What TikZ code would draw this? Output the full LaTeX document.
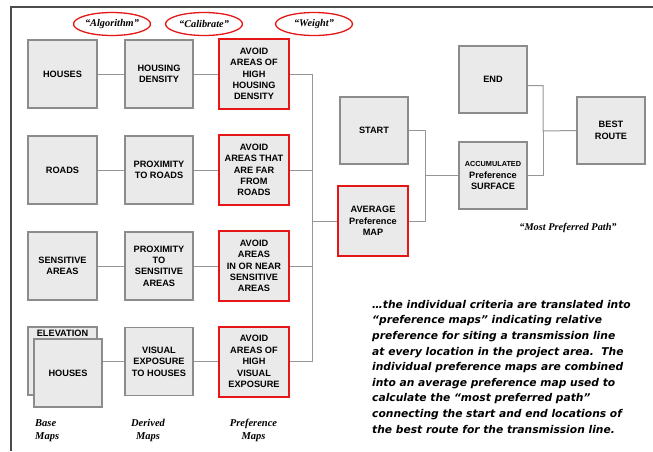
\documentclass[tikz,border=0pt]{standalone}
\usepackage{fontspec}
\setmainfont{Liberation Serif}
\setsansfont{Liberation Sans}
\newfontfamily\notefont{DejaVu Sans}
\usetikzlibrary{shapes.geometric}
\definecolor{boxfill}{RGB}{234,234,234}
\definecolor{boxline}{RGB}{140,140,140}
\definecolor{wirecol}{RGB}{150,150,150}
\definecolor{mred}{RGB}{228,22,22}
\tikzset{mapbox/.style = {draw=boxline, fill=boxfill, line width=1.2, align=center,
                          inner sep=1, minimum width=68, minimum height=68,
                          font=\sffamily\bfseries\fontsize{9.2}{11.4}\selectfont}}
\tikzset{prefbox/.style = {mapbox, draw=mred, line width=2, minimum width=70, minimum height=70}}
\tikzset{tag/.style = {draw=mred, line width=1.3, ellipse, minimum width=77, minimum height=23,
                       inner sep=0, font=\bfseries\itshape\fontsize{10.3}{12}\selectfont}}
\tikzset{wire/.style = {draw=wirecol, line width=1}}
\tikzset{caption/.style = {inner sep=0, align=center, font=\bfseries\itshape\fontsize{10.5}{13}\selectfont}}

\begin{document}
\begin{tikzpicture}[x=1pt, y=-1pt]
      \useasboundingbox (0,0) rectangle (653,451);
      \draw [line width=1.5, black!70] (11,451) -- (11,7) -- (653,7);

      % labels above the columns
      \node [tag] (algorithm) at (112,24) {``Algorithm''};
      \node [tag] (calibrate) at (204,24) {``Calibrate''};
      \node [tag] (weight) at (314,24) {``Weight''};

      % base, derived and preference maps
      \node [mapbox, minimum width=69] (houses) at (62.5,74) {HOUSES};
      \node [mapbox] (density) at (159,74) {HOUSING\\DENSITY};
      \node [prefbox] (avoidhousing) at (254,74) {AVOID\\AREAS OF\\HIGH\\HOUSING\\DENSITY};

      \node [mapbox, minimum width=69] (roads) at (62.5,170) {ROADS};
      \node [mapbox] (proxroads) at (159,170) {PROXIMITY\\TO ROADS};
      \node [prefbox] (avoidroads) at (254,170) {AVOID\\AREAS THAT\\ARE FAR\\FROM\\ROADS};

      \node [mapbox, minimum width=69] (sensitive) at (62.5,266) {SENSITIVE\\AREAS};
      \node [mapbox] (proxsensitive) at (159,266) {PROXIMITY\\TO\\SENSITIVE\\AREAS};
      \node [prefbox] (avoidsensitive) at (254,266) {AVOID\\AREAS\\IN OR NEAR\\SENSITIVE\\AREAS};

      \node [mapbox, minimum width=69] (elevation) at (62.5,361) {};
      \node [anchor=north, inner sep=0, font=\sffamily\bfseries\fontsize{9.2}{11}\selectfont]
            (elevtext) at ([yshift=-3]elevation.north) {ELEVATION};
      \node [mapbox] (housestwo) at (68,373) {HOUSES};
      \node [mapbox] (visual) at (159,361.5) {VISUAL\\EXPOSURE\\TO HOUSES};
      \node [prefbox] (avoidvisual) at (254,361.5) {AVOID\\AREAS OF\\HIGH\\VISUAL\\EXPOSURE};

      \draw [wire] (houses) -- (density);
      \draw [wire] (density) -- (avoidhousing);
      \draw [wire] (roads) -- (proxroads);
      \draw [wire] (proxroads) -- (avoidroads);
      \draw [wire] (sensitive) -- (proxsensitive);
      \draw [wire] (proxsensitive) -- (avoidsensitive);
      \draw [wire] (housestwo.east |- visual) -- (visual.west);
      \draw [wire] (visual) -- (avoidvisual);

      % path finding
      \node [prefbox] (average) at (373,221) {AVERAGE\\Preference\\MAP};
      \node [mapbox, minimum height=67] (start) at (374,130.5) {START};
      \node [mapbox, minimum height=67] (accumulated) at (493,175.5)
            {{\fontsize{7.3}{9}\selectfont ACCUMULATED}\\Preference\\SURFACE};
      \node [mapbox, minimum height=67] (end) at (493,79.5) {END};
      \node [mapbox, minimum height=67] (best) at (611,130.5) {BEST\\ROUTE};

      \coordinate (bus) at (312,221);
      \coordinate (merge) at (425,175.5);
      \coordinate (route) at (543,131);
      \draw [wire] (avoidhousing.east) -| (bus) -- (average.west);
      \draw [wire] (avoidvisual.east) -| (bus);
      \draw [wire] (avoidroads.east) -- (avoidroads.east -| bus);
      \draw [wire] (avoidsensitive.east) -- (avoidsensitive.east -| bus);
      \draw [wire] (start.east) -| (merge) -- (accumulated.west);
      \draw [wire] (average.east) -| (merge);
      \draw [wire] ([yshift=-6]end.east) -| (route) -- (best.west);
      \draw [wire] (accumulated.east) -| (route);

      \node [caption, font=\bfseries\itshape\fontsize{10.3}{12}\selectfont] (mostpreferred)
            at (568,228) {``Most Preferred Path''};

      % column captions
      \node [caption, anchor=north west, align=left] (basemaps) at (35,419) {Base\\Maps};
      \node [caption, anchor=north] (derivedmaps) at (148,419) {Derived\\Maps};
      \node [caption, anchor=north] (prefmaps) at (253.5,419) {Preference\\Maps};

      \node [anchor=base west, inner sep=0, align=left,
             font=\notefont\bfseries\itshape\fontsize{10.7}{15.6}\selectfont] (note) at (372,433)
            {…the individual criteria are translated into\\
             “preference maps” indicating relative\\
             preference for siting a transmission line\\
             at every location in the project area.\ \ The\\
             individual preference maps are combined\\
             into an average preference map used to\\
             calculate the “most preferred path”\\
             connecting the start and end locations of\\
             the best route for the transmission line.};
\end{tikzpicture}
\end{document}
